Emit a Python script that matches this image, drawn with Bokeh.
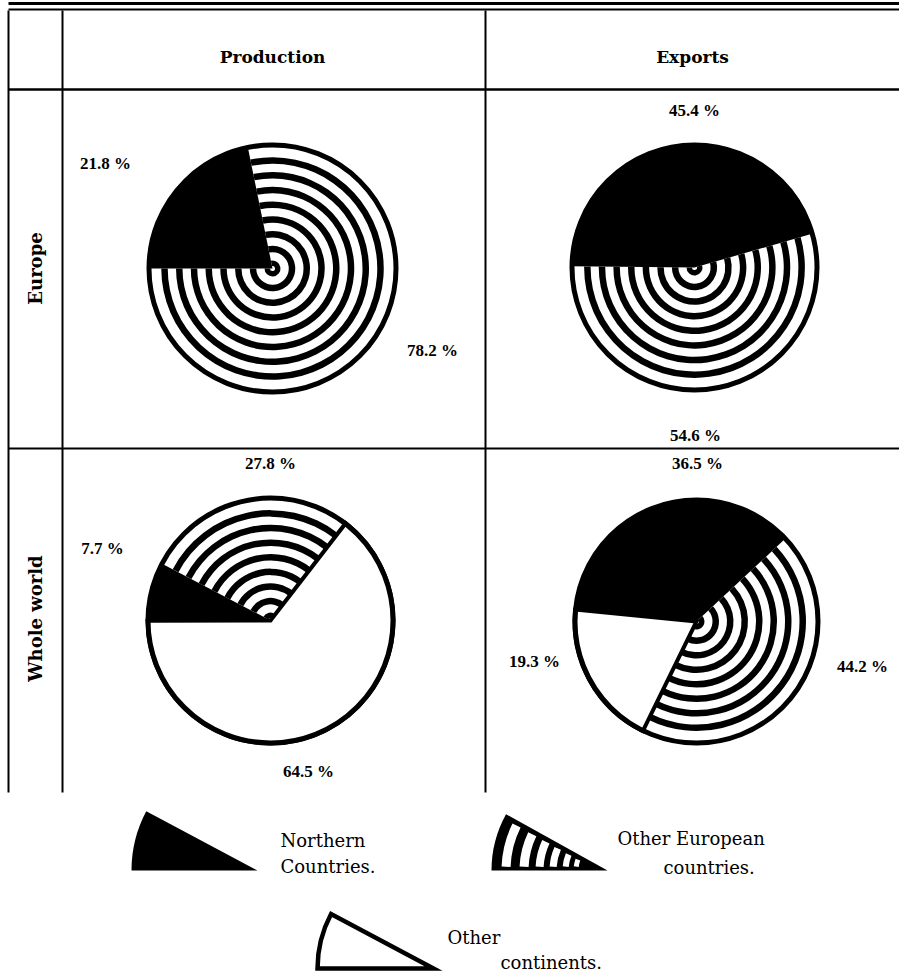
import math
from bokeh.plotting import figure
from bokeh.models import Range1d
from bokeh.core.properties import value
from bokeh.embed import file_html
from bokeh.resources import INLINE

# ---------------- data ----------------
row_labels = ["Europe", "Whole world"]
column_labels = ["Production", "Exports"]
# categories: 0 = Northern Countries, 1 = Other European countries, 2 = Other continents
category_lines = [["Northern", "Countries."], ["Other  European", "countries."], ["Other", "continents."]]

europe_production_cats = [0, 1]
europe_production_vals = [21.8, 78.2]
europe_exports_cats = [0, 1]
europe_exports_vals = [45.4, 54.6]
world_production_cats = [1, 0, 2]
world_production_vals = [27.8, 7.7, 64.5]
world_exports_cats = [0, 2, 1]
world_exports_vals = [36.5, 19.3, 44.2]

# ---------------- layout (page pixel coordinates, y downwards) ----------------
W, H = 899, 975
def Y(py):
    return H - py

def rad(d):
    return math.radians(d)

SERIF = value("DejaVu Serif")
BOLD_SERIF = value("Liberation Serif")

pies = [
    dict(cx=272, cy=268, R=126, start=101.5, cats=europe_production_cats, vals=europe_production_vals,
         lab=[(105, 163), (432, 350)]),
    dict(cx=694, cy=267, R=125, start=16.0, cats=europe_exports_cats, vals=europe_exports_vals,
         lab=[(694, 110), (695, 435)]),
    dict(cx=270, cy=620, R=125, start=52.3, cats=world_production_cats, vals=world_production_vals,
         lab=[(270, 463), (102, 548), (308, 771)]),
    dict(cx=696, cy=621, R=124, start=43.0, cats=world_exports_cats, vals=world_exports_vals,
         lab=[(697, 463), (534, 661), (862, 666)]),
]

p = figure(width=W, height=H, x_range=Range1d(0, W), y_range=Range1d(0, H),
           output_backend="svg", toolbar_location=None, min_border=0)
p.axis.visible = False
p.xgrid.visible = False
p.ygrid.visible = False
p.outline_line_color = None
p.background_fill_color = "white"
p.border_fill_color = "white"

# ---------------- table rules ----------------
for yy, lw in [(3, 3), (9, 2), (89, 2.5), (448, 2)]:
    p.segment(x0=[8], y0=[Y(yy)], x1=[899], y1=[Y(yy)], line_color="black", line_width=lw)
for xx in [8, 62, 485]:
    p.segment(x0=[xx], y0=[Y(10)], x1=[xx], y1=[Y(792)], line_color="black", line_width=2)

# headers
p.text(x=[272, 692], y=[Y(56), Y(56)], text=column_labels, text_font=SERIF, text_font_style="bold",
       text_font_size="17px", text_align="center", text_baseline="middle", text_color="black")
p.text(x=[35, 35], y=[Y(268), Y(618)], text=row_labels, text_font=SERIF, text_font_style="bold",
       text_font_size="18px", text_align="center", text_baseline="middle", text_color="black",
       angle=math.pi / 2)

# ---------------- pies ----------------
def stripes(cx, cy, R, a0, a1):
    pitch = (R - 8) / 8.0
    inner, outer = [], []
    for k in range(1, 9):
        o = R - k * pitch
        outer.append(o)
        inner.append(max(o - 6.5, 2.5))
    n = len(inner)
    p.annular_wedge(x=[cx] * n, y=[Y(cy)] * n, inner_radius=inner, outer_radius=outer,
                    start_angle=[rad(a0)] * n, end_angle=[rad(a1)] * n,
                    fill_color="black", line_color=None)

for pie in pies:
    a = pie["start"]
    cx, cy, R = pie["cx"], pie["cy"], pie["R"]
    segs = []
    for c, v in zip(pie["cats"], pie["vals"]):
        span = v * 3.6
        segs.append((c, a, a + span))
        a += span
    for c, a0, a1 in segs:
        if c == 2:
            p.wedge(x=[cx], y=[Y(cy)], radius=R - 2, start_angle=rad(a0), end_angle=rad(a1),
                    fill_color="white", line_color="black", line_width=4, line_join="miter")
    for c, a0, a1 in segs:
        if c == 1:
            stripes(cx, cy, R, a0, a1)
        elif c == 0:
            p.wedge(x=[cx], y=[Y(cy)], radius=R - 1, start_angle=rad(a0), end_angle=rad(a1),
                    fill_color="black", line_color=None)
    p.circle(x=[cx], y=[Y(cy)], radius=R - 2.5, fill_color=None, line_color="black", line_width=5)
    labs = [f"{v} %" for v in pie["vals"]]
    p.text(x=[q[0] for q in pie["lab"]], y=[Y(q[1]) for q in pie["lab"]], text=labs,
           text_font=BOLD_SERIF, text_font_style="bold", text_font_size="17px",
           text_align="center", text_baseline="middle", text_color="black")

# ---------------- legend ----------------
# Northern countries (black)
p.wedge(x=[257], y=[Y(870)], radius=126, start_angle=rad(152), end_angle=rad(180),
        fill_color="black", line_color=None)
# Other European countries (striped)
lx, ly, lR = 607, 870, 116
p.wedge(x=[lx], y=[Y(ly)], radius=lR, start_angle=rad(151), end_angle=rad(180),
        fill_color="black", line_color=None)
gap_outer = [106, 88, 72, 58, 45, 34]
gap_width = [9, 9, 8, 7, 6, 5]
gi, go, ga0, ga1 = [], [], [], []
for o, w in zip(gap_outer, gap_width):
    i = o - w
    inset = math.degrees(4.5 / i)
    gi.append(i); go.append(o); ga0.append(rad(151 + inset)); ga1.append(rad(180 - inset * 0.8))
p.annular_wedge(x=[lx] * len(gi), y=[Y(ly)] * len(gi), inner_radius=gi, outer_radius=go,
                start_angle=ga0, end_angle=ga1, fill_color="white", line_color=None)
# Other continents (white)
p.wedge(x=[433], y=[Y(968)], radius=116, start_angle=rad(152), end_angle=rad(180),
        fill_color="white", line_color="black", line_width=4.5, line_join="miter")

p.text(x=[280, 280, 617, 663, 447, 500], y=[Y(840), Y(866), Y(838), Y(867), Y(937), Y(962)],
       text=[category_lines[0][0], category_lines[0][1], category_lines[1][0], category_lines[1][1],
             category_lines[2][0], category_lines[2][1]],
       text_font=SERIF, text_font_size="18px", text_align="left", text_baseline="middle",
       text_color="black")

open("out.html", "w").write(file_html(p, INLINE))
